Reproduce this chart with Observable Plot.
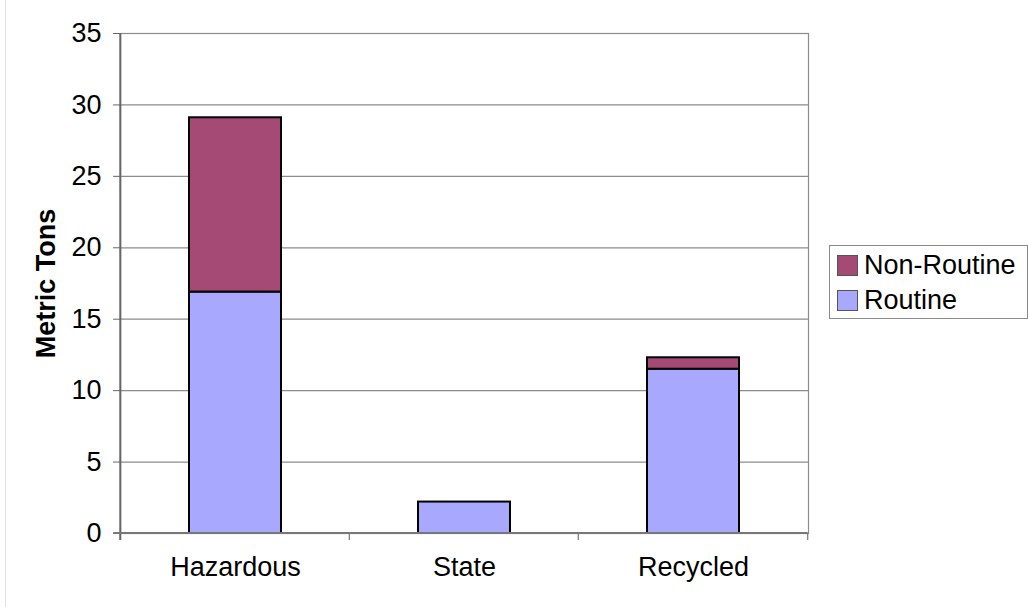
<!DOCTYPE html>
<html>
<head>
<meta charset="utf-8">
<script src="https://cdn.jsdelivr.net/npm/d3@7"></script>
<script src="https://cdn.jsdelivr.net/npm/@observablehq/plot@0.6"></script>
<style>
  html, body { margin: 0; padding: 0; background: #fff; }
  body { width: 1028px; height: 607px; position: relative; overflow: hidden;
         font-family: "Liberation Sans", Arial, sans-serif; }
  #edge { position: absolute; left: 5px; top: 0; width: 1px; height: 607px; background: #e2e2e2; }
  #chart { position: absolute; left: 0; top: 0; }
  #legend { position: absolute; left: 829px; top: 245px; width: 199px; height: 74px;
            border: 1px solid #8a8a8a; box-sizing: border-box; background: #fff; }
  .row { display: flex; align-items: center; height: 35px; padding-left: 7px; font-size: 27px; color: #000; }
  .row:first-child { margin-top: 2px; }
  .sw { width: 21px; height: 21px; border: 1px solid #555; box-sizing: border-box; margin-right: 6px; }
</style>
</head>
<body>
<div id="edge"></div>
<div id="chart"></div>
<div id="legend"></div>
<script>
// Waste categories and tonnage by type
const categories = ["Hazardous", "State", "Recycled"];
const routine = [16.9, 2.2, 11.5];
const nonRoutine = [12.2, 0, 0.8];
const yTicks = [0, 5, 10, 15, 20, 25, 30, 35];
const seriesNames = ["Routine", "Non-Routine"];
const seriesColors = ["#A8A8FF", "#A54A74"];

const rows = [];
categories.forEach((c, i) => {
  rows.push({category: c, series: "Routine", value: routine[i]});
  rows.push({category: c, series: "Non-Routine", value: nonRoutine[i]});
});
const data = rows.filter(d => d.value > 0);

const font = "'Liberation Sans', Arial, sans-serif";

const chart = Plot.plot({
  width: 1028,
  height: 607,
  marginTop: 33,
  marginBottom: 74,
  marginLeft: 120,
  marginRight: 220,
  style: {fontFamily: font, fontSize: "27px", color: "#000", background: "transparent"},
  x: {type: "band", domain: categories, paddingInner: 0.6, paddingOuter: 0.3, label: null},
  y: {domain: [0, 35], label: null},
  color: {domain: seriesNames, range: seriesColors},
  marks: [
    Plot.ruleY(yTicks, {stroke: "#8c8c8c", strokeWidth: 1.2}),
    Plot.frame({stroke: "#8c8c8c", strokeWidth: 1.2}),
    Plot.barY(data, {
      x: "category", y: "value", fill: "series",
      stroke: "#000", strokeWidth: 2,
      order: seriesNames
    }),
    Plot.axisY({ticks: yTicks, tickSize: 7, tickPadding: 12, fontSize: 27, stroke: "#666", label: null}),
    Plot.axisX({tickSize: 0, tickPadding: 23, fontSize: 27, label: null}),
    Plot.text(["Metric Tons"], {
      frameAnchor: "left", textAnchor: "middle", rotate: -90, dx: -74,
      fontWeight: "bold", fontSize: 27, fill: "#000"
    })
  ]
});

document.getElementById("chart").appendChild(chart);

// Axis lines and category separators drawn from the plot's own scales
const xs = chart.scale("x");
const ys = chart.scale("y");
const svg = d3.select(chart);
const y0 = ys.apply(0);
const yTop = ys.apply(35);
const left = xs.apply(categories[0]) - xs.step * xs.paddingOuter;
const bounds = categories.map((c, i) => left + i * xs.step);
bounds.push(xs.apply(categories[categories.length - 1]) + xs.bandwidth + xs.step * xs.paddingOuter);

const g = svg.append("g");
g.selectAll("line.sep").data(bounds).join("line")
  .attr("x1", d => d).attr("x2", d => d)
  .attr("y1", y0).attr("y2", y0 + 7)
  .attr("stroke", "#777").attr("stroke-width", 1.2);
g.append("line")
  .attr("x1", bounds[0]).attr("x2", bounds[0])
  .attr("y1", yTop).attr("y2", y0 + 7)
  .attr("stroke", "#666").attr("stroke-width", 2);
g.append("line")
  .attr("x1", bounds[0] - 7).attr("x2", bounds[bounds.length - 1])
  .attr("y1", y0).attr("y2", y0)
  .attr("stroke", "#777").attr("stroke-width", 2);

// Legend, top series first
const legend = d3.select("#legend");
[1, 0].forEach(i => {
  const row = legend.append("div").attr("class", "row");
  row.append("div").attr("class", "sw").style("background", seriesColors[i]);
  row.append("span").text(seriesNames[i]);
});
</script>
</body>
</html>
